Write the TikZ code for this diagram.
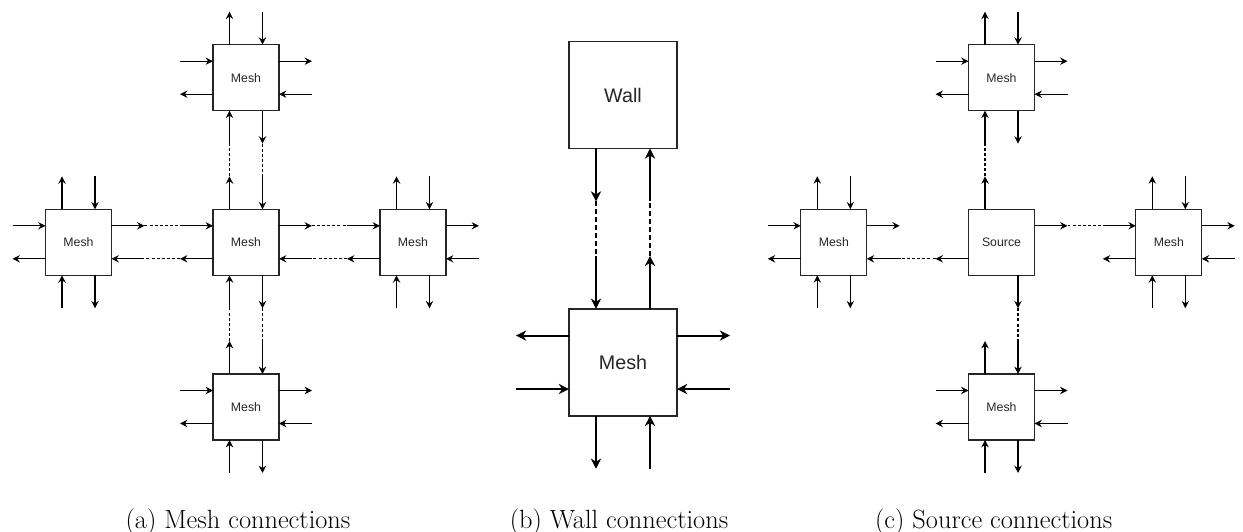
\documentclass[tikz,border=0pt]{standalone}
\usepackage{fontspec}
\setsansfont{Liberation Sans}
\usetikzlibrary{arrows.meta,calc}

% port coordinates of a box: n/s/e/w sides, 1 = first quarter, 2 = third quarter;
% the matching free stub end gets the suffix x
\newcommand\makeports[2]{%
  \path (#1.north west) -- (#1.north east) coordinate[pos=.25] (#1-n1) coordinate[pos=.75] (#1-n2);
  \path (#1.south west) -- (#1.south east) coordinate[pos=.25] (#1-s1) coordinate[pos=.75] (#1-s2);
  \path (#1.north west) -- (#1.south west) coordinate[pos=.25] (#1-w1) coordinate[pos=.75] (#1-w2);
  \path (#1.north east) -- (#1.south east) coordinate[pos=.25] (#1-e1) coordinate[pos=.75] (#1-e2);
  \path (#1-n1) ++(0,#2) coordinate (#1-n1x) (#1-n2) ++(0,#2) coordinate (#1-n2x)
        (#1-s1) ++(0,-#2) coordinate (#1-s1x) (#1-s2) ++(0,-#2) coordinate (#1-s2x)
        (#1-w1) ++(-#2,0) coordinate (#1-w1x) (#1-w2) ++(-#2,0) coordinate (#1-w2x)
        (#1-e1) ++(#2,0) coordinate (#1-e1x) (#1-e2) ++(#2,0) coordinate (#1-e2x);
}
% outgoing and incoming stubs
\newcommand\portout[2][arr]{\draw[#1] (#2) -- (#2x);}
\newcommand\portin[2][arr]{\draw[#1] (#2x) -- (#2);}
% the eight stubs of a mesh cell
\newcommand\meshports[1]{%
  \portout{#1-n1}\portin{#1-n2}\portin{#1-s1}\portout{#1-s2}%
  \portin{#1-w1}\portout{#1-w2}\portout{#1-e1}\portin{#1-e2}}

\begin{document}
\begin{tikzpicture}[x=0.02cm,y=0.02cm,
  meshbox/.style={draw=black!85, line width=0.75pt, minimum width=1.32cm, minimum height=1.32cm,
    inner sep=0pt, outer sep=0pt, font=\sffamily\fontsize{7}{8}\selectfont, text=black!85},
  bigbox/.style={meshbox, line width=1.1pt, minimum width=2.16cm, minimum height=2.14cm,
    font=\sffamily\fontsize{11.2}{13}\selectfont},
  arr/.style={-{Stealth[length=4.2pt,width=4.2pt,inset=1.4pt]}, line width=0.75pt},
  bigarr/.style={-{Stealth[length=5.8pt,width=5.8pt,inset=1.8pt]}, line width=1.1pt},
  link/.style={line width=0.75pt, dash pattern=on 1.7pt off 1.2pt},
  biglink/.style={line width=1.1pt, dash pattern=on 2.8pt off 1.7pt},
  caption/.style={font=\fontsize{15}{18}\selectfont, anchor=base, inner sep=0pt}]
\useasboundingbox (0,0) rectangle (1243,531);

% ---------- (a) mesh to mesh ----------
\node[meshbox] (a-t) at (246,453.3) {Mesh};
\node[meshbox] (a-c) at (246,288.7) {Mesh};
\node[meshbox] (a-b) at (246,124) {Mesh};
\node[meshbox] (a-l) at (78.5,288.7) {Mesh};
\node[meshbox] (a-r) at (413,288.7) {Mesh};
\foreach \m in {a-t,a-c,a-b,a-l,a-r}{\makeports{\m}{33}\meshports{\m}}
\draw[link] (a-c-n1x) -- (a-t-s1x);
\draw[link] (a-t-s2x) -- (a-c-n2x);
\draw[link] (a-c-s2x) -- (a-b-n2x);
\draw[link] (a-b-n1x) -- (a-c-s1x);
\draw[link] (a-l-e1x) -- (a-c-w1x);
\draw[link] (a-c-w2x) -- (a-l-e2x);
\draw[link] (a-c-e1x) -- (a-r-w1x);
\draw[link] (a-r-w2x) -- (a-c-e2x);
\node[caption] (cap-a) at (238,3) {(a) Mesh connections};

% ---------- (b) wall to mesh ----------
\node[bigbox] (b-w) at (623,436) {Wall};
\node[bigbox] (b-m) at (623,168.7) {Mesh};
\makeports{b-w}{53}
\makeports{b-m}{53}
\portout[bigarr]{b-w-s1}\portin[bigarr]{b-w-s2}
\portin[bigarr]{b-m-n1}\portout[bigarr]{b-m-n2}
\portout[bigarr]{b-m-s1}\portin[bigarr]{b-m-s2}
\portout[bigarr]{b-m-w1}\portin[bigarr]{b-m-w2}
\portout[bigarr]{b-m-e1}\portin[bigarr]{b-m-e2}
\draw[biglink] (b-w-s1x) -- (b-m-n1x);
\draw[biglink] (b-m-n2x) -- (b-w-s2x);
\node[caption] (cap-b) at (619,3) {(b) Wall connections};

% ---------- (c) source to mesh ----------
\node[meshbox] (c-t) at (1001.5,453.3) {Mesh};
\node[meshbox] (c-s) at (1001.5,288.7) {Source};
\node[meshbox] (c-b) at (1001.5,124) {Mesh};
\node[meshbox] (c-l) at (833.8,288.7) {Mesh};
\node[meshbox] (c-r) at (1168.8,288.7) {Mesh};
\foreach \m in {c-t,c-b,c-l,c-r}{\makeports{\m}{33}\meshports{\m}}
\makeports{c-s}{33}
\portout{c-s-n1}\portout{c-s-e1}\portout{c-s-w2}\portout{c-s-s2}
\draw[link] (c-s-n1x) -- (c-t-s1x);
\draw[link] (c-s-e1x) -- (c-r-w1x);
\draw[link] (c-s-w2x) -- (c-l-e2x);
\draw[link] (c-s-s2x) -- (c-b-n2x);
\node[caption] (cap-c) at (993.7,3) {(c) Source connections};
\end{tikzpicture}
\end{document}
